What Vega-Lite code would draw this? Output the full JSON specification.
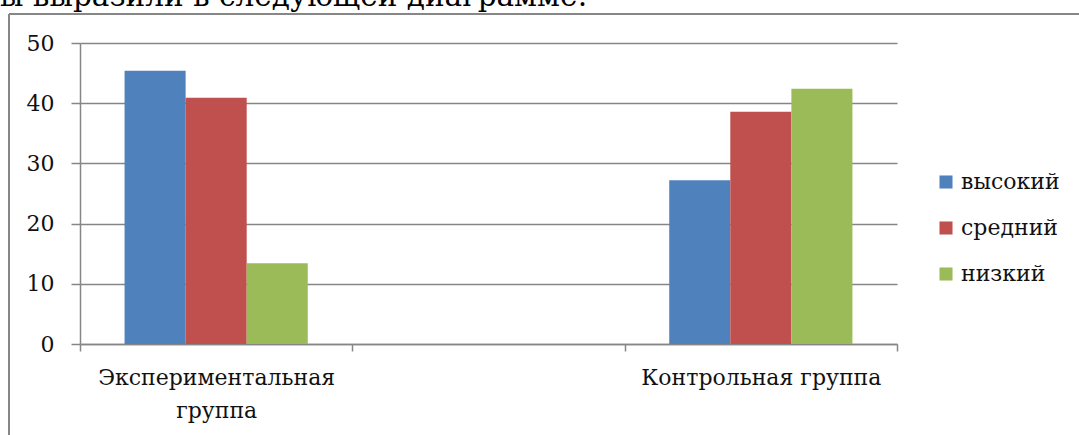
{
  "$schema": "https://vega.github.io/schema/vega-lite/v6.json",
  "autosize": "none",
  "padding": {"left": 9, "top": 14, "right": 0, "bottom": 0},
  "width": 1070,
  "height": 421,
  "background": "white",
  "view": {"stroke": "#878787", "strokeWidth": 2, "strokeDash": [1070, 1491, 421, 0]},
  "title": {
    "text": "ы выразили в следующей диаграмме:",
    "anchor": "start",
    "frame": "group",
    "font": "DejaVu Serif",
    "fontSize": 29.5,
    "fontWeight": "normal",
    "color": "#000000",
    "baseline": "alphabetic",
    "offset": 0,
    "dx": -9,
    "dy": 21
  },
  "data": {
    "values": [
      {"group": "Экспериментальная группа", "level": "высокий", "value": 45.4},
      {"group": "Экспериментальная группа", "level": "средний", "value": 40.9},
      {"group": "Экспериментальная группа", "level": "низкий", "value": 13.4},
      {"group": "Контрольная группа", "level": "высокий", "value": 27.2},
      {"group": "Контрольная группа", "level": "средний", "value": 38.6},
      {"group": "Контрольная группа", "level": "низкий", "value": 42.4}
    ]
  },
  "mark": {"type": "bar"},
  "encoding": {
    "x": {
      "field": "group",
      "type": "nominal",
      "sort": null,
      "scale": {"domain": ["Экспериментальная группа", " ", "Контрольная группа"], "range": [71, 888], "paddingInner": 0, "paddingOuter": 0},
      "axis": {
        "title": null,
        "orient": "bottom",
        "offset": -91,
        "labelAngle": 0,
        "tickBand": "extent",
        "tickSize": 7,
        "tickColor": "#868686",
        "domainColor": "#868686",
        "domainWidth": 1.5,
        "tickWidth": 1.5,
        "labelFont": "DejaVu Serif",
        "labelFontSize": 22,
        "labelColor": "#111111",
        "labelPadding": 16,
        "labelLimit": 0,
        "labelLineHeight": 33,
        "labelExpr": "datum.label == 'Экспериментальная группа' ? ['Экспериментальная', 'группа'] : datum.label"
      }
    },
    "xOffset": {
      "field": "level",
      "type": "nominal",
      "sort": ["высокий", "средний", "низкий"],
      "scale": {"paddingInner": 0, "paddingOuter": 0.73}
    },
    "y": {
      "field": "value",
      "type": "quantitative",
      "scale": {"domain": [0, 50], "range": [330, 29], "nice": false},
      "axis": {
        "title": null,
        "orient": "left",
        "offset": -71,
        "values": [0, 10, 20, 30, 40, 50],
        "grid": true,
        "gridColor": "#868686",
        "gridWidth": 1.5,
        "tickSize": 9,
        "tickColor": "#868686",
        "tickWidth": 1.5,
        "domainColor": "#868686",
        "domainWidth": 1.5,
        "labelFont": "DejaVu Serif",
        "labelFontSize": 22,
        "labelColor": "#111111",
        "labelPadding": 17
      }
    },
    "color": {
      "field": "level",
      "type": "nominal",
      "sort": ["высокий", "средний", "низкий"],
      "scale": {"domain": ["высокий", "средний", "низкий"], "range": ["#4F81BD", "#C0504D", "#9BBB59"]},
      "legend": {
        "title": null,
        "orient": "none",
        "legendX": 926,
        "legendY": 157,
        "symbolType": "square",
        "symbolSize": 170,
        "symbolStrokeWidth": 0,
        "labelFont": "DejaVu Serif",
        "labelFontSize": 22,
        "labelColor": "#111111",
        "labelOffset": 4,
        "rowPadding": 24
      }
    }
  }
}
